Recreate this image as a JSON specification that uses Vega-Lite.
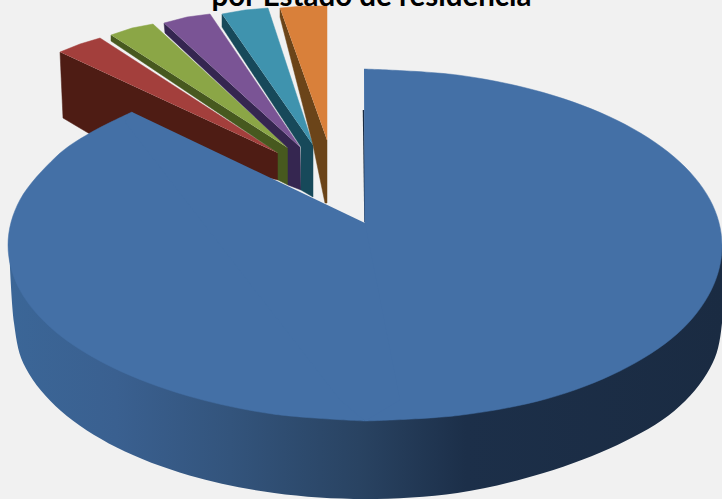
{
"$schema":"https://vega.github.io/schema/vega-lite/v6.json",
"width":722,"height":499,"padding":0,"autosize":{"type":"none"},
"background":"#f1f1f1",
"config":{"view":{"stroke":null}},
"data":{"values":[
{"s":"redSide","i":1,"x":60,"y":52},{"s":"redSide","i":2,"x":63,"y":118},{"s":"redSide","i":3,"x":100,"y":140},{"s":"redSide","i":4,"x":278,"y":180},{"s":"redSide","i":5,"x":278,"y":153},
{"s":"redTop","i":1,"x":60,"y":52},{"s":"redTop","i":2,"x":80,"y":44},{"s":"redTop","i":3,"x":100,"y":38},{"s":"redTop","i":4,"x":278,"y":153},
{"s":"greenSide","i":1,"x":111,"y":35},{"s":"greenSide","i":2,"x":111,"y":41},{"s":"greenSide","i":3,"x":278,"y":153},{"s":"greenSide","i":4,"x":278,"y":180},{"s":"greenSide","i":5,"x":288,"y":185},{"s":"greenSide","i":6,"x":288,"y":148},
{"s":"greenTop","i":1,"x":111,"y":35},{"s":"greenTop","i":2,"x":132,"y":28},{"s":"greenTop","i":3,"x":153,"y":24},{"s":"greenTop","i":4,"x":288,"y":148},
{"s":"purpleSide","i":1,"x":164,"y":23},{"s":"purpleSide","i":2,"x":165,"y":33},{"s":"purpleSide","i":3,"x":288,"y":148},{"s":"purpleSide","i":4,"x":288,"y":185},{"s":"purpleSide","i":5,"x":301,"y":190},{"s":"purpleSide","i":6,"x":300,"y":147},
{"s":"purpleTop","i":1,"x":164,"y":23},{"s":"purpleTop","i":2,"x":187,"y":17},{"s":"purpleTop","i":3,"x":210,"y":14},{"s":"purpleTop","i":4,"x":300,"y":147},
{"s":"tealSide","i":1,"x":222,"y":14},{"s":"tealSide","i":2,"x":222,"y":27},{"s":"tealSide","i":3,"x":301,"y":147},{"s":"tealSide","i":4,"x":301,"y":190},{"s":"tealSide","i":5,"x":313,"y":197},{"s":"tealSide","i":6,"x":313,"y":145},
{"s":"tealTop","i":1,"x":222,"y":14},{"s":"tealTop","i":2,"x":245,"y":10},{"s":"tealTop","i":3,"x":268,"y":8},{"s":"tealTop","i":4,"x":313,"y":145},
{"s":"orangeSide","i":1,"x":280,"y":8},{"s":"orangeSide","i":2,"x":280,"y":17},{"s":"orangeSide","i":3,"x":313,"y":145},{"s":"orangeSide","i":4,"x":325,"y":203},{"s":"orangeSide","i":5,"x":327,"y":203},{"s":"orangeSide","i":6,"x":327,"y":140},
{"s":"orangeTop","i":1,"x":280,"y":8},{"s":"orangeTop","i":2,"x":303,"y":6},{"s":"orangeTop","i":3,"x":327,"y":6},{"s":"orangeTop","i":4,"x":327,"y":140},
{"s":"mainSide","i":1,"x":9,"y":245},{"s":"mainSide","i":2,"x":14,"y":323},{"s":"mainSide","i":3,"x":26,"y":368.6},{"s":"mainSide","i":4,"x":61,"y":411},{"s":"mainSide","i":5,"x":116.8,"y":447.5},{"s":"mainSide","i":6,"x":189.5,"y":475.4},{"s":"mainSide","i":7,"x":274.2,"y":493},{"s":"mainSide","i":8,"x":365,"y":499},{"s":"mainSide","i":9,"x":457.4,"y":493},{"s":"mainSide","i":10,"x":543.5,"y":473},{"s":"mainSide","i":11,"x":617.4,"y":445},{"s":"mainSide","i":12,"x":674.2,"y":411},{"s":"mainSide","i":13,"x":709.8,"y":368.6},{"s":"mainSide","i":14,"x":722,"y":323},{"s":"mainSide","i":15,"x":723,"y":245},
{"s":"mainRight","i":1,"x":364,"y":69},{"s":"mainRight","i":2,"x":457.4,"y":75},{"s":"mainRight","i":3,"x":543.5,"y":92.6},{"s":"mainRight","i":4,"x":617.4,"y":120.5},{"s":"mainRight","i":5,"x":674.2,"y":157},{"s":"mainRight","i":6,"x":709.8,"y":199.4},{"s":"mainRight","i":7,"x":722,"y":245},{"s":"mainRight","i":8,"x":710.8,"y":291},{"s":"mainRight","i":9,"x":677,"y":334},{"s":"mainRight","i":10,"x":620,"y":371},{"s":"mainRight","i":11,"x":546,"y":399},{"s":"mainRight","i":12,"x":458,"y":415.5},{"s":"mainRight","i":13,"x":365,"y":421},
{"s":"mainLeft","i":1,"x":365,"y":421},{"s":"mainLeft","i":2,"x":272.6,"y":414},{"s":"mainLeft","i":3,"x":186.5,"y":395.5},{"s":"mainLeft","i":4,"x":112.6,"y":367.5},{"s":"mainLeft","i":5,"x":55.8,"y":332},{"s":"mainLeft","i":6,"x":20.2,"y":290.6},{"s":"mainLeft","i":7,"x":8,"y":245},{"s":"mainLeft","i":8,"x":20.2,"y":199.4},{"s":"mainLeft","i":9,"x":55.8,"y":157},{"s":"mainLeft","i":10,"x":90,"y":133},{"s":"mainLeft","i":11,"x":132,"y":112},
{"s":"mainWedge","i":1,"x":132,"y":112},{"s":"mainWedge","i":2,"x":365,"y":223},{"s":"mainWedge","i":3,"x":400,"y":400},{"s":"mainWedge","i":4,"x":365,"y":421},{"s":"mainWedge","i":5,"x":340,"y":400},{"s":"mainWedge","i":6,"x":125,"y":122},
{"s":"edge","i":1,"x":363.5,"y":110},{"s":"edge","i":2,"x":365,"y":222},
{"s":"title","i":1,"x":371.5,"y":6,"t":"por Estado de residencia"}
]},
"encoding":{
"x":{"field":"x","type":"quantitative","scale":{"domain":[0,722],"nice":false,"zero":false},"axis":null},
"y":{"field":"y","type":"quantitative","scale":{"domain":[499,0],"nice":false,"zero":false},"axis":null},
"order":{"field":"i","type":"quantitative"}
},
"layer":[
{"transform":[{"filter":"datum.s=='redSide'"}],"mark":{"type":"line","fill":"#4e1c14","stroke":"#4e1c14","strokeWidth":0.5}},
{"transform":[{"filter":"datum.s=='redTop'"}],"mark":{"type":"line","fill":"#a33f3c","stroke":"#a33f3c","strokeWidth":0.5}},
{"transform":[{"filter":"datum.s=='greenSide'"}],"mark":{"type":"line","fill":"#47591f","stroke":"#47591f","strokeWidth":0.5}},
{"transform":[{"filter":"datum.s=='greenTop'"}],"mark":{"type":"line","fill":"#8ba646","stroke":"#8ba646","strokeWidth":0.5}},
{"transform":[{"filter":"datum.s=='purpleSide'"}],"mark":{"type":"line","fill":"#352650","stroke":"#352650","strokeWidth":0.5}},
{"transform":[{"filter":"datum.s=='purpleTop'"}],"mark":{"type":"line","fill":"#7a5495","stroke":"#7a5495","strokeWidth":0.5}},
{"transform":[{"filter":"datum.s=='tealSide'"}],"mark":{"type":"line","fill":"#17495a","stroke":"#17495a","strokeWidth":0.5}},
{"transform":[{"filter":"datum.s=='tealTop'"}],"mark":{"type":"line","fill":"#3f93ae","stroke":"#3f93ae","strokeWidth":0.5}},
{"transform":[{"filter":"datum.s=='orangeSide'"}],"mark":{"type":"line","fill":"#6b4419","stroke":"#6b4419","strokeWidth":0.5}},
{"transform":[{"filter":"datum.s=='orangeTop'"}],"mark":{"type":"line","fill":"#d9803a","stroke":"#d9803a","strokeWidth":0.5}},
{"transform":[{"filter":"datum.s=='mainSide'"}],"mark":{"type":"line","interpolate":"cardinal","stroke":null,"fill":{"gradient":"linear","x1":0,"y1":0,"x2":1,"y2":0,"stops":[{"offset":0,"color":"#3b6697"},{"offset":0.15,"color":"#3a6090"},{"offset":0.31,"color":"#33547c"},{"offset":0.49,"color":"#294362"},{"offset":0.64,"color":"#1c2f49"},{"offset":1,"color":"#1a2b42"}]}}},
{"transform":[{"filter":"datum.s=='edge'"}],"mark":{"type":"line","stroke":"#1a2b42","strokeWidth":1.5}},
{"transform":[{"filter":"datum.s=='mainRight'"}],"mark":{"type":"line","interpolate":"cardinal","stroke":"#4470a6","strokeWidth":0.5,"fill":"#4470a6"}},
{"transform":[{"filter":"datum.s=='mainLeft'"}],"mark":{"type":"line","interpolate":"cardinal","stroke":"#4470a6","strokeWidth":0.5,"fill":"#4470a6"}},
{"transform":[{"filter":"datum.s=='mainWedge'"}],"mark":{"type":"line","stroke":null,"fill":"#4470a6"}},
{"transform":[{"filter":"datum.s=='title'"}],"mark":{"type":"text","font":"Lato","fontWeight":"bold","fontSize":29.5,"color":"#000000","align":"center","baseline":"alphabetic"},"encoding":{"text":{"field":"t","type":"nominal"}}}
]
}
